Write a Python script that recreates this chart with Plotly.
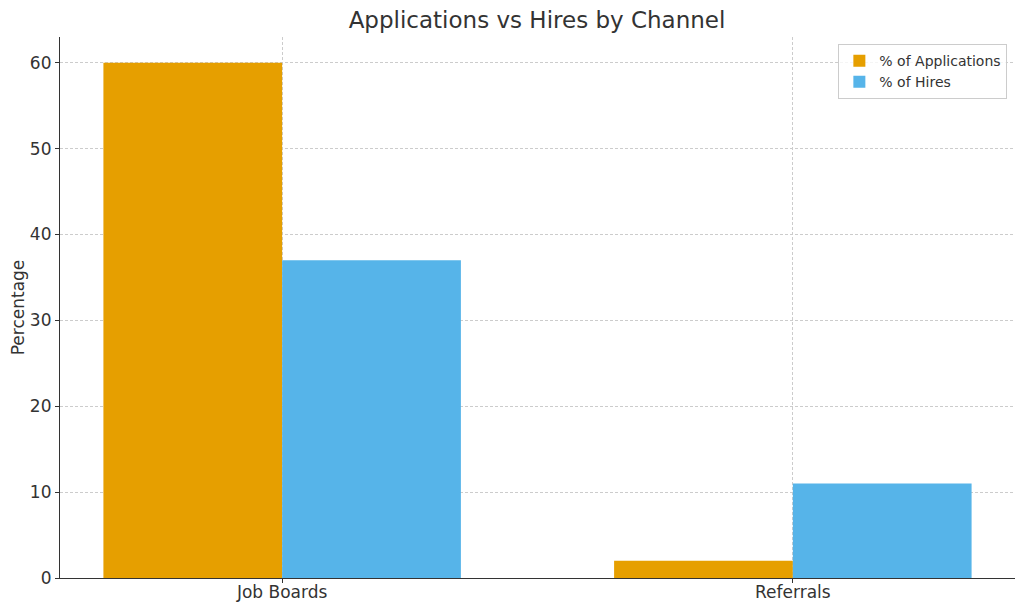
import plotly.graph_objects as go

channels = ["Job Boards", "Referrals"]
applications = [60, 2]
hires = [37, 11]

font_family = "DejaVu Sans"
text_color = "#333333"

fig = go.Figure()
fig.add_trace(go.Bar(x=channels, y=applications, name="% of Applications",
                     marker=dict(color="#E69F00", line=dict(width=0))))
fig.add_trace(go.Bar(x=channels, y=hires, name="% of Hires",
                     marker=dict(color="#56B4E9", line=dict(width=0))))

fig.update_layout(
    width=1016, height=603,
    margin=dict(l=52, r=9, t=29, b=33, autoexpand=False),
    paper_bgcolor="white", plot_bgcolor="white",
    font=dict(family=font_family, size=16, color=text_color),
    barmode="group", bargap=0.3, bargroupgap=0,
    title=dict(text="Applications vs Hires by Channel", x=0.5207, xanchor="center",
               y=0.980, yanchor="middle", font=dict(size=23, color=text_color)),
    legend=dict(x=0.992, y=0.987, xanchor="right", yanchor="top",
                bgcolor="rgba(255,255,255,0.8)", bordercolor="#cccccc", borderwidth=1,
                font=dict(size=14, color=text_color), tracegroupgap=0),
    xaxis=dict(range=[-0.435, 1.435], showgrid=True, gridcolor="#cccccc", griddash="3px,2px",
               gridwidth=0.8, showline=True, linecolor="#333333", linewidth=1.2,
               ticks="outside", ticklen=4, tickcolor="#333333", tickfont=dict(size=17),
               ticklabelstandoff=-6, automargin=False),
    yaxis=dict(range=[0, 63], dtick=10, showgrid=True, gridcolor="#cccccc", griddash="3px,2px",
               gridwidth=0.8, showline=True, linecolor="#333333", linewidth=1.2,
               ticks="outside", ticklen=4, tickcolor="#333333", tickfont=dict(size=17),
               zeroline=False, automargin=False,
               title=dict(text="Percentage", font=dict(size=17), standoff=8)),
)

fig.write_html("out.html")
